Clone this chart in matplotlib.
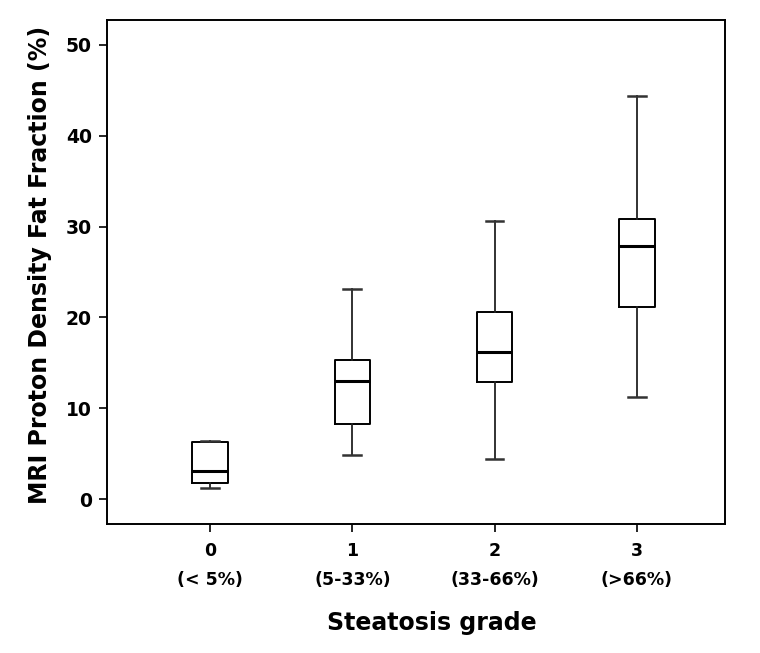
import matplotlib
matplotlib.use("Agg")
import matplotlib.pyplot as plt

grades = ["0\n(< 5%)", "1\n(5-33%)", "2\n(33-66%)", "3\n(>66%)"]
whislo = [1.25, 4.85, 4.37, 11.2]
q1 = [1.76, 8.26, 12.9, 21.2]
med = [3.08, 13.0, 16.2, 27.86]
q3 = [6.3, 15.3, 20.56, 30.87]
whishi = [6.42, 23.1, 30.65, 44.4]
yticks = [0, 10, 20, 30, 40, 50]

plt.rcParams['font.family'] = ['DejaVu Sans']

fig = plt.figure(figsize=(7.6, 6.53), dpi=100)
ax = fig.add_axes([107/760, 1-524/653, (725-107)/760, (524-20)/653])

stats = []
for i in range(len(grades)):
    stats.append(dict(whislo=whislo[i], q1=q1[i], med=med[i], q3=q3[i], whishi=whishi[i], fliers=[]))

ax.bxp(stats, positions=range(len(grades)), widths=0.25, showfliers=False,
       boxprops=dict(color='black', linewidth=1.4),
       medianprops=dict(color='black', linewidth=2.2),
       whiskerprops=dict(color='#222222', linewidth=1.3),
       capprops=dict(color='#333333', linewidth=1.8),
       capwidths=0.125)

ax.set_xlim(-0.725, 3.62)
ax.set_ylim(-2.75, 52.75)
ax.set_yticks(yticks)
ax.set_xticks(range(len(grades)))
ax.set_xticklabels(grades, linespacing=1.75)
for lab in ax.get_xticklabels():
    lab.set_fontweight('bold')
    lab.set_fontsize(12.5)
for lab in ax.get_yticklabels():
    lab.set_fontweight('bold')
    lab.set_fontsize(13.5)
ax.tick_params(axis='both', length=6, width=1.2, color='black', direction='out')
ax.tick_params(axis='x', pad=7)
ax.tick_params(axis='y', pad=5)
for s in ax.spines.values():
    s.set_linewidth(1.4)

ax.set_ylabel("MRI Proton Density Fat Fraction (%)", fontsize=17, fontweight='bold', labelpad=10)
ax.yaxis.label.set_y((524-265)/504)
ax.set_xlabel("Steatosis grade", fontsize=17, fontweight='bold', labelpad=16)
ax.xaxis.label.set_x((432-107)/618)

fig.savefig("out.png", dpi=100)
